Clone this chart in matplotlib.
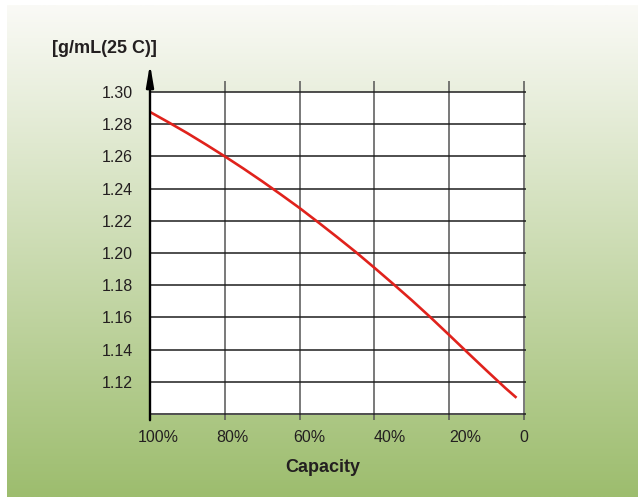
import numpy as np
import matplotlib
matplotlib.use("Agg")
import matplotlib.pyplot as plt
from matplotlib.transforms import ScaledTranslation

plt.rcParams['font.family'] = ['Liberation Sans', 'DejaVu Sans']

# ---- data ----
capacity = [100, 95, 90, 85, 80, 75, 70, 65, 60, 55, 50, 45, 40, 35, 30, 25, 20, 15, 10, 5, 2]
density = [1.2876, 1.2811, 1.2744, 1.2673, 1.2600, 1.2524, 1.2445, 1.2363, 1.2279,
           1.2190, 1.2099, 1.2006, 1.1908, 1.1808, 1.1706, 1.1600, 1.1490, 1.1379,
           1.1269, 1.1161, 1.1100]
xticks = [100, 80, 60, 40, 20, 0]
xtick_labels = ['100%', '80%', '60%', '40%', '20%', '0']
yticks = [1.12, 1.14, 1.16, 1.18, 1.20, 1.22, 1.24, 1.26, 1.28, 1.30]
ytick_labels = ['1.12', '1.14', '1.16', '1.18', '1.20', '1.22', '1.24', '1.26', '1.28', '1.30']
x_title = 'Capacity'
y_title = '[g/mL(25 C)]'

W, H = 638, 497
fig = plt.figure(figsize=(W / 100, H / 100), dpi=100)
fig.patch.set_facecolor('white')

# background gradient
bg = fig.add_axes([7 / W, 0, (W - 7) / W, (H - 5) / H])
bg.set_axis_off()
top = np.array([250, 250, 246]) / 255
bot = np.array([157, 189, 110]) / 255
t = np.linspace(0, 1, 256)[:, None, None]
grad = top * (1 - t) + bot * t
bg.imshow(grad, aspect='auto', extent=[0, 1, 0, 1], interpolation='bilinear')
bg.set_xlim(0, 1); bg.set_ylim(0, 1)

# main axes
px = 0.000621  # data units per pixel
y_bot_px, y_top_px = 413.9, 81
ax = fig.add_axes([150 / W, (H - y_bot_px) / H, 374 / W, (y_bot_px - y_top_px) / H])
ax.set_facecolor('none')
ymin = 1.10
ymax = 1.30 + 11 * px
ax.set_xlim(100, 0)
ax.set_ylim(ymin, ymax)
for s in ax.spines.values():
    s.set_visible(False)

ax.fill_between([100, 0], 1.10, 1.30, color='white', zorder=0)

tick_bottom = ymin - 6.3 * px
ax.vlines(xticks[1:], tick_bottom, ymax, color='#555555', lw=1.1, clip_on=False, zorder=1)
ax.hlines([1.10] + yticks, 100, -0.55, color='#1e1e1e', lw=1.1, clip_on=False, zorder=1)

# y axis with arrow
ax.annotate('', xy=(100, 1.30 + 28 * px), xytext=(100, tick_bottom),
            arrowprops=dict(arrowstyle='-|>,head_length=1.3,head_width=0.22',
                            color='black', lw=1.7, mutation_scale=10,
                            shrinkA=0, shrinkB=0),
            annotation_clip=False, zorder=3)

ax.plot(capacity, density, color='#e0221c', lw=1.9, zorder=2, solid_capstyle='butt')

ax.set_xticks(xticks)
ax.set_xticklabels(xtick_labels)
ax.set_yticks(yticks)
ax.set_yticklabels(ytick_labels)
ax.tick_params(axis='x', length=0, pad=11.3, labelsize=11.5, labelcolor='#231f20')
ax.tick_params(axis='y', length=0, pad=12.2, labelsize=11.5, labelcolor='#231f20')

offsets = [8, 8, 10, 15, 16, 0]
for lab, dx in zip(ax.get_xticklabels(), offsets):
    lab.set_transform(lab.get_transform() + ScaledTranslation(dx / 100, 0, fig.dpi_scale_trans))

fig.text(322.5 / W, 1 - 468 / H, x_title, ha='center', va='center',
         fontsize=13, fontweight='bold', color='#231f20')
fig.text(104 / W, 1 - 48.5 / H, y_title, ha='center', va='center',
         fontsize=13, fontweight='bold', color='#231f20')

fig.savefig('out.png', dpi=100)
